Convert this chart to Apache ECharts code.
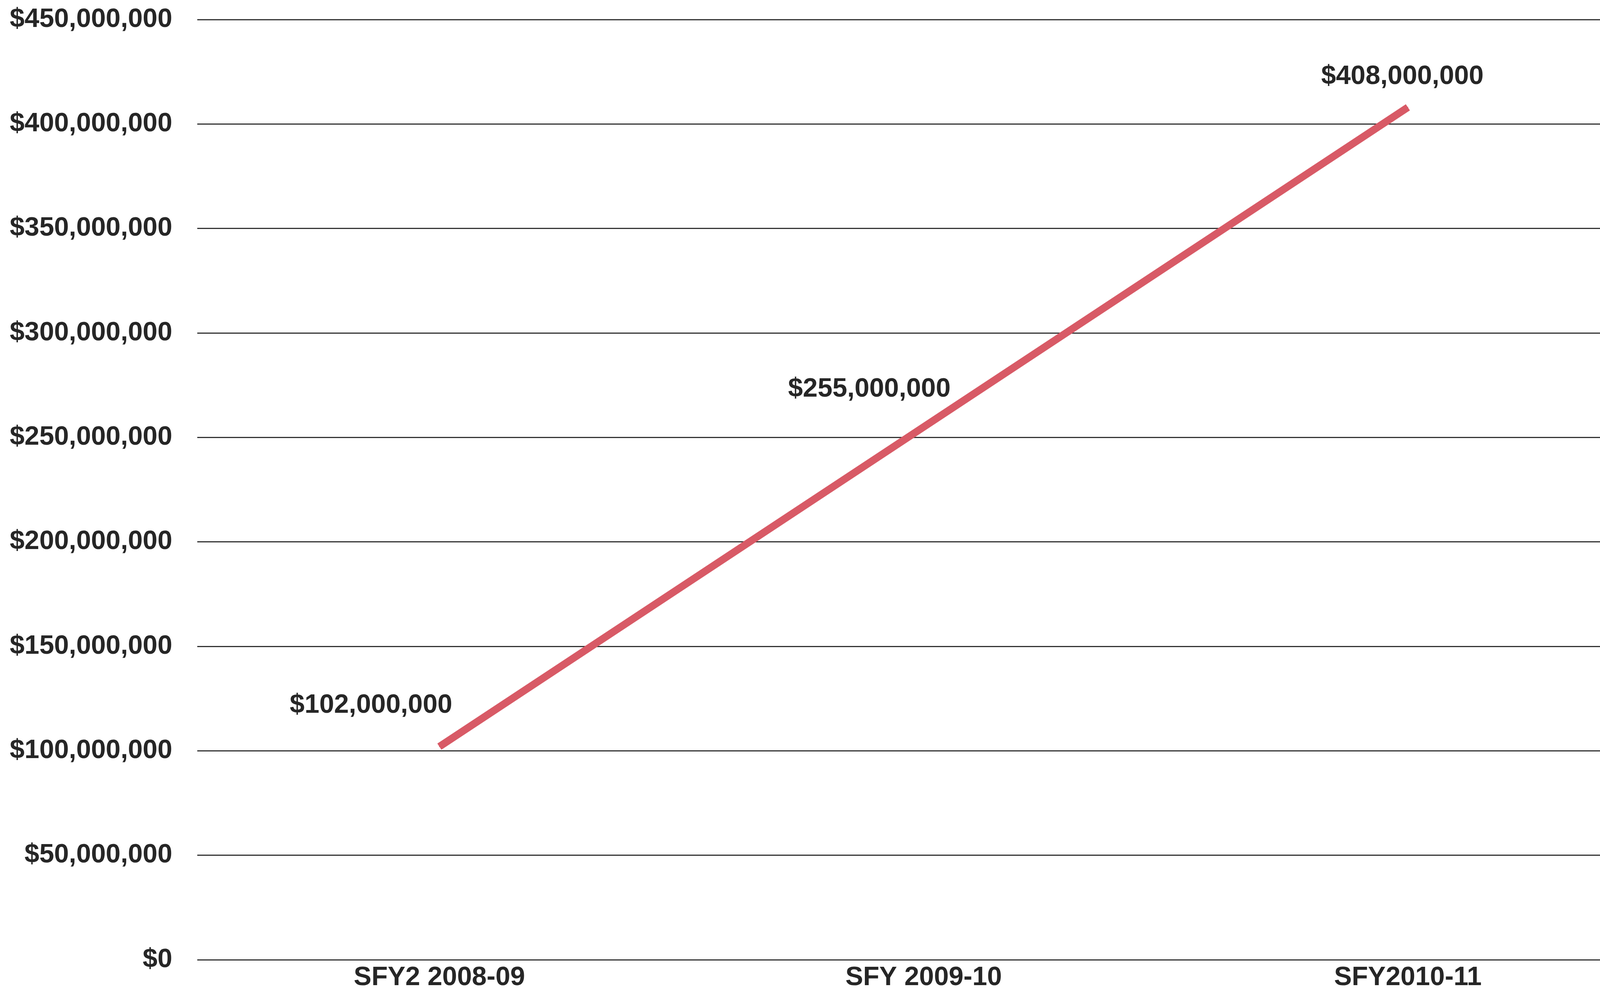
<!DOCTYPE html>
<html>
<head>
<meta charset="utf-8">
<script src="https://cdn.jsdelivr.net/npm/echarts@6/dist/echarts.min.js"></script>
<style>
html,body{margin:0;padding:0;background:#fff;}
#chart{width:4239px;height:2536px;}
</style>
</head>
<body>
<div id="chart"></div>
<script>
const categories = ['SFY2 2008-09', 'SFY 2009-10', 'SFY2010-11'];
const fundingValues = [102000000, 255000000, 408000000];
const yAxisMin = 0;
const yAxisMax = 450000000;
const yAxisInterval = 50000000;

function money(v) {
  return '$' + Math.round(v).toString().replace(/\B(?=(\d{3})+(?!\d))/g, ',');
}

const FONT = "'Liberation Sans Narrow', 'Liberation Sans', Arial, sans-serif";
const TEXT = '#262626';
const LINE = '#D85A66';
const FS = 68;
const labelShift = [[-175, -64], [-139, -55], [-14, -37]];

const chart = echarts.init(document.getElementById('chart'));
chart.setOption({
  backgroundColor: '#ffffff',
  animation: false,
  grid: { left: 505, right: 15, top: 50, bottom: 79, containLabel: false },
  xAxis: {
    type: 'category',
    data: categories,
    boundaryGap: true,
    axisLine: { show: false },
    axisTick: { show: false },
    splitLine: { show: false },
    axisLabel: {
      color: TEXT, fontFamily: FONT, fontWeight: 'bold', fontSize: FS,
      margin: 12, interval: 0
    }
  },
  yAxis: {
    type: 'value',
    min: yAxisMin, max: yAxisMax, interval: yAxisInterval,
    axisLine: { show: false },
    axisTick: { show: false },
    splitLine: { show: true, lineStyle: { color: '#333333', width: 3 } },
    axisLabel: {
      color: TEXT, fontFamily: FONT, fontWeight: 'bold', fontSize: FS,
      margin: 64, formatter: money
    }
  },
  series: [{
    type: 'line',
    data: fundingValues,
    symbol: 'circle',
    symbolSize: 2,
    showSymbol: true,
    clip: false,
    lineStyle: { color: LINE, width: 19, cap: 'butt' },
    itemStyle: { color: LINE },
    label: {
      show: true, position: 'top', distance: 0,
      color: TEXT, fontFamily: FONT, fontWeight: 'bold', fontSize: FS, lineHeight: 80,
      formatter: p => money(p.value)
    },
    labelLayout: function (params) {
      const s = labelShift[params.dataIndex] || [0, 0];
      return { dx: s[0], dy: s[1], hideOverlap: false };
    },
    z: 5
  }]
});
</script>
</body>
</html>
